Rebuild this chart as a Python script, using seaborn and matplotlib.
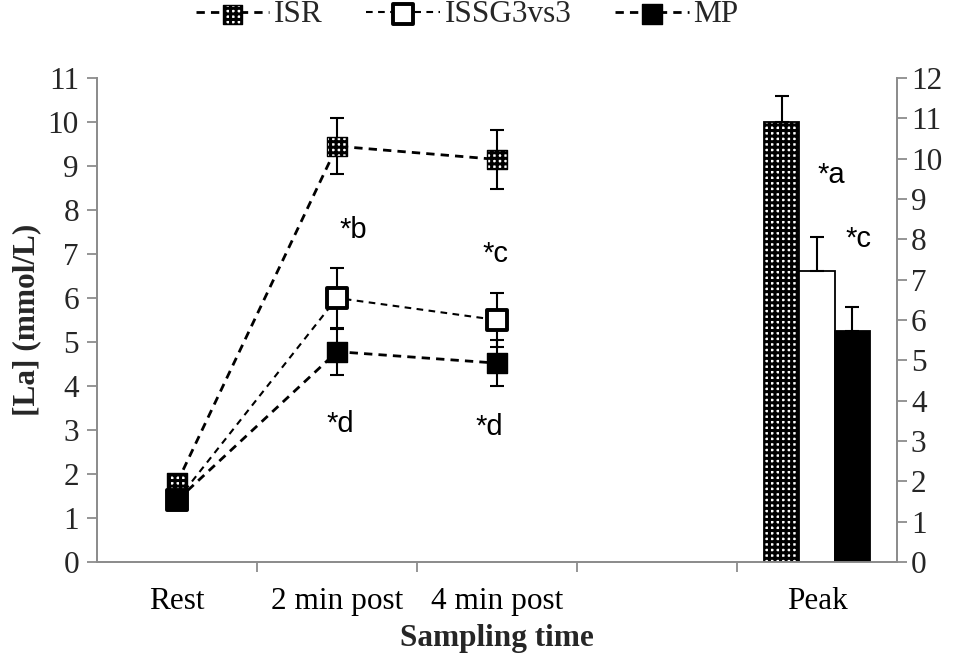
import numpy as np
import pandas as pd
import matplotlib
matplotlib.use("Agg")
import matplotlib.pyplot as plt
import seaborn as sns

# ---------------- data ----------------
categories = ["Rest", "2 min post", "4 min post", "", "Peak"]
line_times = ["Rest", "2 min post", "4 min post"]
groups = ["ISR", "ISSG3vs3", "MP"]

isr_mean = [1.8, 9.45, 9.15]
isr_sd = [0.0, 0.63, 0.67]
issg_mean = [1.4, 6.0, 5.5]
issg_sd = [0.0, 0.68, 0.62]
mp_mean = [1.4, 4.78, 4.52]
mp_sd = [0.0, 0.52, 0.52]

peak_mean = [10.9, 7.22, 5.72]
peak_sd = [0.66, 0.85, 0.6]

left_ticks = list(range(0, 12))
right_ticks = list(range(0, 13))

# ---------------- style ----------------
sns.set_theme(style="white")
plt.rcParams["font.family"] = ["Liberation Serif", "DejaVu Serif"]
plt.rcParams["hatch.linewidth"] = 2.2
plt.rcParams["hatch.color"] = "black"

GRAY = "#8c8c8c"
FS = 22.5

fig = plt.figure(figsize=(9.56, 6.60), dpi=100)
ax = fig.add_axes([97 / 956, 1 - 562 / 660, 800 / 956, (562 - 78) / 660])
ax2 = ax.twinx()

# ---------------- bars (right axis) ----------------
df_peak = pd.DataFrame({"time": ["Peak"] * 3, "group": groups, "value": peak_mean})
sns.barplot(data=df_peak, x="time", y="value", hue="group", order=categories,
            hue_order=groups, palette=["white", "white", "black"], edgecolor="black",
            linewidth=1.3, width=0.66, errorbar=None, legend=False, ax=ax2)
bars = [p for p in ax2.patches]
bars[0].set_hatch("+++")
bx = [b.get_x() + b.get_width() / 2 for b in bars]
ax2.errorbar(bx, peak_mean, yerr=[np.zeros(3), peak_sd], fmt="none",
             ecolor="black", elinewidth=1.5, capsize=5, capthick=1.5, zorder=5)

# ---------------- lines (left axis) ----------------
xpos = [categories.index(t) for t in line_times]
series = [
    ("ISR", isr_mean, isr_sd, dict(lw=2.0, dashes=(3.0, 2.2))),
    ("ISSG3vs3", issg_mean, issg_sd, dict(lw=1.5, dashes=(3.2, 2.6))),
    ("MP", mp_mean, mp_sd, dict(lw=2.0, dashes=(3.0, 2.2))),
]
marker_style = {
    "ISR": dict(facecolor="white", edgecolor="black", linewidth=1.0, hatch="+++"),
    "ISSG3vs3": dict(facecolor="white", edgecolor="black", linewidth=2.8, hatch=None),
    "MP": dict(facecolor="black", edgecolor="black", linewidth=1.0, hatch=None),
}
leg_handles = []
for name, m, sd, ls in series:
    df = pd.DataFrame({"x": xpos, "y": m})
    sns.lineplot(data=df, x="x", y="y", color="black", ax=ax, lw=ls["lw"],
                 dashes=False, zorder=3)
    ln = ax.lines[-1]
    ln.set_dashes(ls["dashes"])
    sd_arr = np.array(sd)
    ax.errorbar(xpos, m, yerr=sd_arr, fmt="none", ecolor="black",
                elinewidth=1.5, capsize=5, capthick=1.5, zorder=4)
    st = marker_style[name]
    sns.scatterplot(data=df, x="x", y="y", marker="s", s=190, ax=ax,
                    color=st["facecolor"], edgecolor=st["edgecolor"],
                    linewidth=st["linewidth"], zorder=6, legend=False)
    sc = ax.collections[-1]
    sc.set_facecolor(st["facecolor"])
    sc.set_edgecolor(st["edgecolor"])
    if st["hatch"]:
        sc.set_hatch(st["hatch"])
    leg_handles.append((ln, sc))

# ---------------- axes formatting ----------------
ax.set_xlim(-0.5, 4.5)
ax.set_ylim(0, 11)
ax2.set_ylim(0, 12)
ax.set_yticks(left_ticks)
ax2.set_yticks(right_ticks)
ax.set_xticks(range(len(categories)))
ax.set_xticklabels(categories)
ax.set_xticks([0.5, 1.5, 2.5, 3.5], minor=True)
ax.tick_params(axis="x", which="major", length=0, pad=18, labelsize=FS, colors="black")
ax.tick_params(axis="x", which="minor", length=7, width=1.3, color=GRAY, direction="out",
               bottom=True)
ax.tick_params(axis="y", length=7, width=1.3, color=GRAY, direction="out", labelsize=FS,
               pad=6, left=True)
ax2.tick_params(axis="y", length=7, width=1.3, color=GRAY, direction="out", labelsize=FS,
                pad=3, right=True)
for a in (ax, ax2):
    for s in a.spines.values():
        s.set_color(GRAY)
        s.set_linewidth(1.3)
    a.spines["top"].set_visible(False)
    a.set_facecolor("none")
ax.grid(False)
ax2.grid(False)
ax2.set_ylabel("")
ax2.set_xlabel("")
ax.set_ylabel("[La] (mmol/L)", fontsize=FS, fontweight="bold", labelpad=5)
ax.set_xlabel("Sampling time", fontsize=FS, fontweight="bold", labelpad=6)

# ---------------- annotations ----------------
afont = dict(family=["Liberation Sans", "DejaVu Sans"],
             fontsize=21, ha="center", va="center", color="black")
ax.text(1.1, 7.55, "*b", **afont)
ax.text(1.99, 7.0, "*c", **afont)
ax.text(1.02, 3.13, "*d", **afont)
ax.text(1.95, 3.06, "*d", **afont)
ax.text(4.09, 8.8, "*a", **afont)
ax.text(4.26, 7.35, "*c", **afont)

# ---------------- legend ----------------
fig.legend(leg_handles, groups, loc="center", bbox_to_anchor=(467 / 956, 1 - 15 / 660),
           ncol=3, frameon=False, fontsize=FS, handlelength=2.35, handletextpad=0.15,
           columnspacing=1.4, scatterpoints=1)

fig.savefig("out.png", dpi=100)
